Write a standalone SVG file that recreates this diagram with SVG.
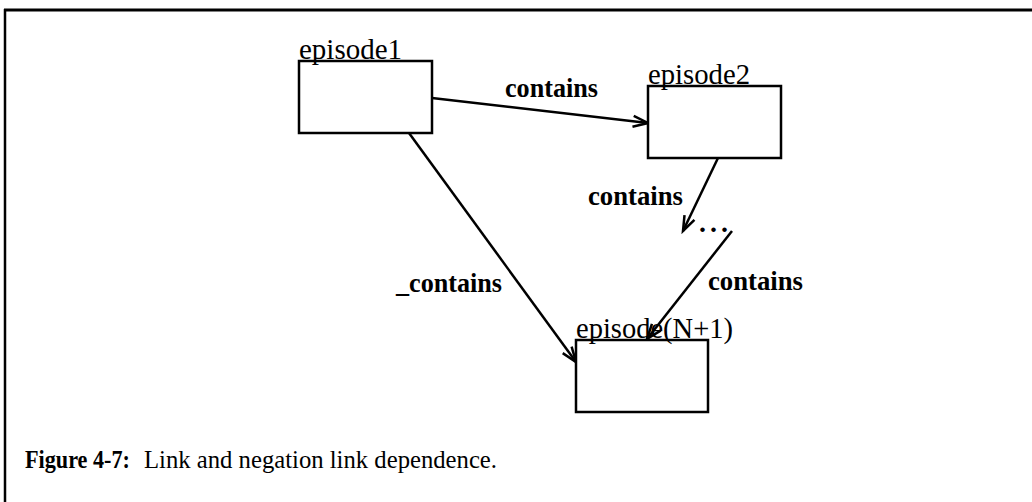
<svg xmlns="http://www.w3.org/2000/svg" width="1032" height="502" viewBox="0 0 1032 502">
  <style>
    .box { fill: #fff; stroke: #000; stroke-width: 2.5; }
    .edge { fill: none; stroke: #000; stroke-width: 2.5; }
    .name { font-family: "Liberation Serif", "Times New Roman", serif; font-size: 30px; fill: #000; }
    .lbl { font-family: "Liberation Serif", "Times New Roman", serif; font-size: 28px; font-weight: bold; fill: #000; }
    .cap { font-family: "Liberation Serif", "Times New Roman", serif; font-size: 25px; fill: #000; }
  </style>
  <defs>
    <marker id="arrow" markerUnits="userSpaceOnUse" markerWidth="20" markerHeight="14" viewBox="-17 -7 20 14" refX="0" refY="0" orient="auto">
      <path d="M-15,-5.5 L0,0 L-15,5.5" fill="none" stroke="#000" stroke-width="2.5"/>
    </marker>
  </defs>
  <rect width="1032" height="502" fill="#fff"/>

  <!-- figure frame: top rule and left rule -->
  <line x1="4" y1="10" x2="1032" y2="10" stroke="#000" stroke-width="3"/>
  <line x1="5" y1="9" x2="5" y2="502" stroke="#000" stroke-width="2.5"/>

  <g id="connectors">
    <line class="edge" x1="432" y1="98" x2="648" y2="123" marker-end="url(#arrow)"/>
    <line class="edge" x1="409" y1="133" x2="576" y2="362" marker-end="url(#arrow)"/>
    <line class="edge" x1="718" y1="158" x2="683" y2="231" marker-end="url(#arrow)"/>
    <line class="edge" x1="732" y1="231" x2="647" y2="339" marker-end="url(#arrow)"/>
    <text class="lbl" x="505" y="97" textLength="93" lengthAdjust="spacingAndGlyphs">contains</text>
    <text class="lbl" x="588" y="205" textLength="95" lengthAdjust="spacingAndGlyphs">contains</text>
    <text class="lbl" x="708" y="290" textLength="95" lengthAdjust="spacingAndGlyphs">contains</text>
    <text class="lbl" x="396" y="292" textLength="106" lengthAdjust="spacingAndGlyphs">_contains</text>
  </g>

  <g id="episode1">
    <rect class="box" x="299" y="61" width="133" height="72"/>
    <text class="name" x="299" y="59" textLength="103" lengthAdjust="spacingAndGlyphs">episode1</text>
  </g>

  <g id="episode2">
    <rect class="box" x="648" y="86" width="133" height="72"/>
    <text class="name" x="648" y="84" textLength="102" lengthAdjust="spacingAndGlyphs">episode2</text>
  </g>

  <g id="ellipsis">
    <text class="lbl" x="699" y="232" textLength="29" lengthAdjust="spacing">...</text>
  </g>

  <g id="episodeN1">
    <rect class="box" x="576" y="340" width="132" height="72"/>
    <text class="name" x="576" y="338" textLength="157" lengthAdjust="spacingAndGlyphs">episode(N+1)</text>
  </g>

  <g id="caption">
    <text class="cap" x="25" y="468"><tspan font-weight="bold" textLength="105" lengthAdjust="spacingAndGlyphs">Figure 4-7:</tspan><tspan x="144" textLength="353" lengthAdjust="spacingAndGlyphs">Link and negation link dependence.</tspan></text>
  </g>
</svg>
